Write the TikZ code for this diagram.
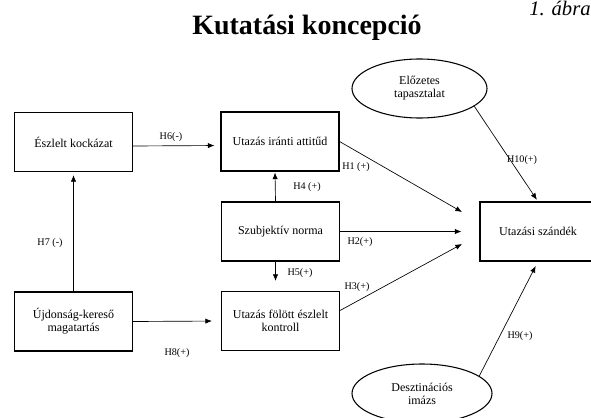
\documentclass[tikz,border=0pt]{standalone}
\usepackage{fontspec}
\setmainfont{Liberation Serif}
\usetikzlibrary{shapes.geometric,arrows.meta}

\def \hyplabels {H6(-)/171/137/lhsix,H1 (+)/356/167/lhone,H4 (+)/307/187/lhfour,H7 (-)/50/243/lhseven,H2(+)/360/242/lhtwo,H5(+)/300/273/lhfive,H3(+)/357/287/lhthree,H8(+)/177/353/lheight,H10(+)/522/160/lhten,H9(+)/520/336/lhnine}

\begin{document}
\begin{tikzpicture}
   [x=0.75pt, y=-0.75pt,
   box/.style={draw=black, line width=0.8pt, minimum width=88.5pt, minimum height=44.25pt, inner sep=1pt, align=center, font=\fontsize{9}{9.75}\selectfont},
   oval/.style={draw=black, line width=0.8pt, ellipse, minimum height=44.25pt, inner sep=0pt, align=center, font=\fontsize{9}{9.75}\selectfont},
   anno/.style={draw=none, fill=none, inner sep=0pt, font=\fontsize{7.6}{8}\selectfont},
   title/.style={draw=none, fill=none, inner sep=0pt, font=\fontsize{21}{24}\selectfont\bfseries},
   arr/.style={-{Latex[length=5pt,width=4pt]}, line width=0.5pt}]{
\useasboundingbox (0,0) rectangle (591,417);

\node[title, anchor=base] (heading) at (307,35) {Kutatási koncepció};
\node[anchor=base west, inner sep=0pt, font=\fontsize{15.5}{18}\selectfont\itshape] (fignum) at (529,16) {1. ábra};

\node[box] (risk) at (73.5,142) {Észlelt kockázat};
\node[box] (attitude) at (280,141.5) {Utazás iránti attitűd};
\node[box] (norm) at (280.5,231.5) {Szubjektív norma};
\node[box] (control) at (280.5,321) {Utazás fölött észlelt\\kontroll};
\node[box] (novelty) at (73.5,321.5) {Újdonság-kereső\\magatartás};
\node[box, minimum width=87pt] (intent) at (538,231.5) {Utazási szándék};
\node[oval, minimum width=101.25pt] (prior) at (419.5,88.5) {Előzetes\\tapasztalat};
\node[oval, minimum width=105pt] (image) at (422,393.5) {Desztinációs\\imázs};

\coordinate (tipone) at (462,212);
\coordinate (tipthree) at (462,244);

\draw[arr, shorten >=4.5pt] ([yshift=-3pt]risk.east) -- ([yshift=-3pt]attitude.west);
\draw[arr, shorten >=2.25pt] (novelty.north) -- (risk.south);
\draw[arr, shorten >=0.75pt] ([xshift=-3.75pt]norm.north) -- ([xshift=-3.75pt]attitude.south);
\draw[arr, shorten >=7.5pt] ([xshift=-3.75pt]norm.south) -- ([xshift=-3.75pt]control.north);
\draw[arr, shorten >=6.75pt] (novelty.east) -- (control.west);
\draw[arr] (attitude.east) -- (tipone);
\draw[arr, shorten >=13.5pt] (norm.east) -- (intent.west);
\draw[arr] (control.10) -- (tipthree);
\draw[arr, shorten >=1.5pt] (prior.-18) -- (intent.north);
\draw[arr, shorten >=3.75pt] (image.17) -- (intent.south);

\foreach \txt / \x / \y / \nm in \hyplabels {
   \node[anno] (\nm) at (\x,\y) {\txt};}
};
\end{tikzpicture}
\end{document}
